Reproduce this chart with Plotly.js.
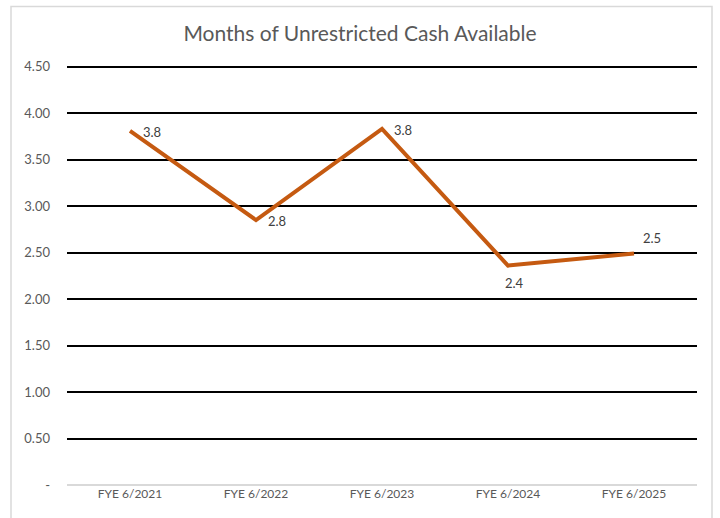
<!DOCTYPE html>
<html><head><meta charset="utf-8">
<script src="https://cdn.plot.ly/plotly-3.0.1.min.js"></script>
<style>body{margin:0;background:#fff}#c{width:720px;height:518px}</style>
</head><body><div id="c"></div>
<script>
const categories = ['FYE 6/2021','FYE 6/2022','FYE 6/2023','FYE 6/2024','FYE 6/2025'];
const months = [3.81, 2.85, 3.83, 2.36, 2.49];
const labels = ['3.8','2.8','3.8','2.4','2.5'];
const tickVals = [0,0.5,1,1.5,2,2.5,3,3.5,4,4.5];
const tickText = ['-','0.50','1.00','1.50','2.00','2.50','3.00','3.50','4.00','4.50'];
const labelShiftX = [22, 21, 21, 6, 18];
const labelShiftY = [-1, -1, -1, -17, 16];
const font = 'Lato, "Open Sans", sans-serif';
const annotations = categories.map((c, i) => ({
  x: c, y: months[i], xref: 'x', yref: 'y', text: labels[i], showarrow: false,
  xshift: labelShiftX[i], yshift: labelShiftY[i], xanchor: 'center', yanchor: 'middle',
  font: {family: font, size: 13, color: '#404040'}
}));
Plotly.newPlot('c', [{
  x: categories, y: months, type: 'scatter', mode: 'lines',
  line: {color: '#C55A11', width: 4},
  cliponaxis: false, hoverinfo: 'none'
}], {
  width: 720, height: 518,
  margin: {l: 67, r: 23, t: 62, b: 33},
  paper_bgcolor: '#fff', plot_bgcolor: '#fff',
  showlegend: false,
  title: {text: 'Months of Unrestricted Cash Available', x: 0.5, xanchor: 'center', y: 0.935, yanchor: 'middle',
    font: {family: font, size: 21, color: '#595959'}},
  xaxis: {type: 'category', range: [-0.5, 4.5], showgrid: false, zeroline: false, showline: false,
    ticks: '', tickfont: {family: font, size: 12, color: '#595959'}, fixedrange: true},
  yaxis: {range: [0, 4.55], tickvals: tickVals, ticktext: tickText, showgrid: true, gridcolor: '#000', gridwidth: 2,
    zeroline: true, zerolinecolor: '#d9d9d9', zerolinewidth: 1.5, showline: false, ticks: '',
    tickfont: {family: font, size: 13, color: '#595959'}, ticklabelstandoff: 16, fixedrange: true},
  annotations: annotations,
  shapes: [{type: 'rect', xref: 'paper', yref: 'paper', x0: -0.0889, x1: 1.0238, y0: -0.095, y1: 1.131,
    line: {color: '#d9d9d9', width: 1.5}, fillcolor: 'rgba(0,0,0,0)', layer: 'below'}]
}, {staticPlot: true});
</script></body></html>
